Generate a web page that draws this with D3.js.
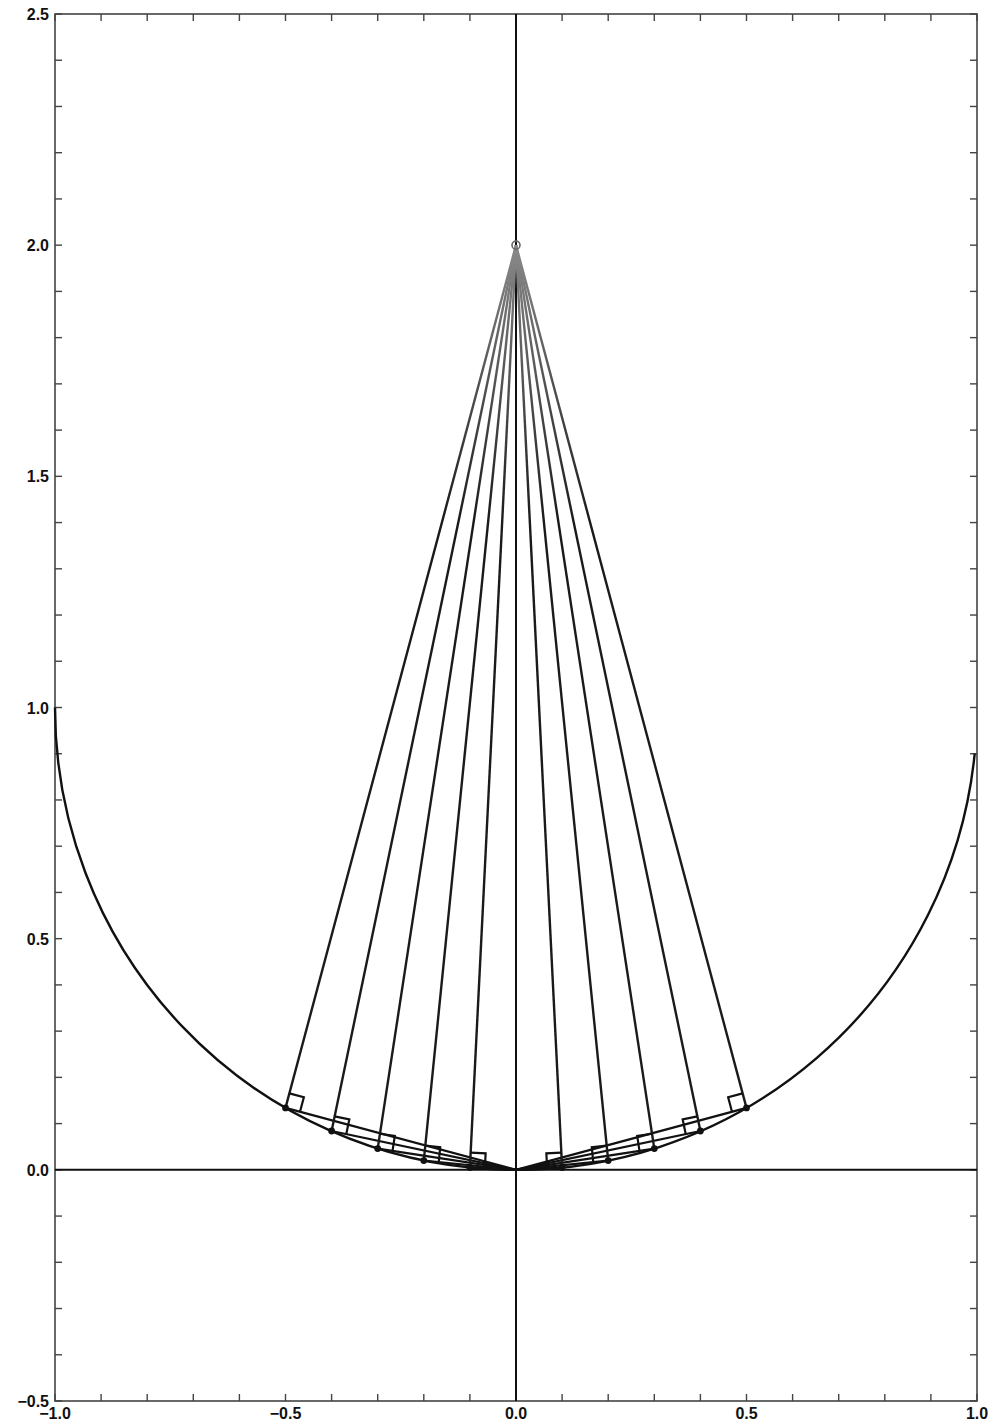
<!DOCTYPE html>
<html lang="en">
<head>
  <meta charset="UTF-8">
  <title>Right angles on the circle</title>
  <script src="https://d3js.org/d3.v7.min.js"></script>
  <style>
    body { margin: 0; background: #fff; }
    text { font-family: "Liberation Sans", Arial, sans-serif; font-weight: bold; font-size: 16px; fill: #111; }
  </style>
</head>
<body>
  <svg id="chart" width="993" height="1426"></svg>
  <script>
    // points on the circle x^2 + (y-1)^2 = 1
    const footX = [-0.5, -0.4, -0.3, -0.2, -0.1, 0.1, 0.2, 0.3, 0.4, 0.5];
    const footY = [0.134, 0.084, 0.046, 0.020, 0.005, 0.005, 0.020, 0.046, 0.084, 0.134];
    const apex = [0, 2];
    const origin = [0, 0];
    const arcStart = [-1, 1];
    const arcEnd = [0.995, 0.9];
    const xLabels = [-1.0, -0.5, 0.0, 0.5, 1.0];
    const yLabels = [-0.5, 0.0, 0.5, 1.0, 1.5, 2.0, 2.5];

    const svg = d3.select("#chart");
    const x = d3.scaleLinear().domain([-1, 1]).range([55, 977]);
    const y = d3.scaleLinear().domain([-0.5, 2.5]).range([1401, 14]);

    // fan lines fade to grey near the apex like in the scan
    const grad = svg.append("defs").append("linearGradient")
      .attr("id", "fade").attr("gradientUnits", "userSpaceOnUse")
      .attr("x1", 0).attr("x2", 0).attr("y1", y(2)).attr("y2", y(1.4));
    grad.append("stop").attr("offset", 0).attr("stop-color", "#8a8a8a");
    grad.append("stop").attr("offset", 1).attr("stop-color", "#1a1a1a");

    // frame
    svg.append("rect")
      .attr("x", x(-1)).attr("y", y(2.5))
      .attr("width", x(1) - x(-1)).attr("height", y(-0.5) - y(2.5))
      .attr("fill", "none").attr("stroke", "#444").attr("stroke-width", 1.6);

    // ticks every 0.1 on all four sides, pointing inward
    const tx = d3.range(-10, 11).map(d => d / 10);
    const ty = d3.range(-5, 26).map(d => d / 10);
    const tl = 7;
    const ticks = svg.append("g").attr("stroke", "#444").attr("stroke-width", 1.4);
    tx.forEach(v => {
      ticks.append("line").attr("x1", x(v)).attr("x2", x(v)).attr("y1", y(-0.5)).attr("y2", y(-0.5) - tl);
      ticks.append("line").attr("x1", x(v)).attr("x2", x(v)).attr("y1", y(2.5)).attr("y2", y(2.5) + tl);
    });
    ty.forEach(v => {
      ticks.append("line").attr("x1", x(-1)).attr("x2", x(-1) + tl).attr("y1", y(v)).attr("y2", y(v));
      ticks.append("line").attr("x1", x(1)).attr("x2", x(1) - tl).attr("y1", y(v)).attr("y2", y(v));
    });

    // tick labels
    const fmt = d3.format(".1f");
    svg.selectAll(".xl").data(xLabels).join("text")
      .attr("x", d => x(d)).attr("y", y(-0.5) + 18)
      .attr("text-anchor", "middle")
      .text(d => fmt(d));
    svg.selectAll(".yl").data(yLabels).join("text")
      .attr("x", x(-1) - 6).attr("y", d => y(d) + 6)
      .attr("text-anchor", "end")
      .text(d => fmt(d));

    // axes through the origin
    svg.append("line")
      .attr("x1", x(-1)).attr("x2", x(1)).attr("y1", y(0)).attr("y2", y(0))
      .attr("stroke", "#111").attr("stroke-width", 2);
    svg.append("line")
      .attr("x1", x(0)).attr("x2", x(0)).attr("y1", y(2.5)).attr("y2", y(-0.5))
      .attr("stroke", "#111").attr("stroke-width", 2);

    // the circle
    const rx = x(1) - x(0), ry = y(0) - y(1);
    svg.append("path")
      .attr("d", `M${x(arcStart[0])},${y(arcStart[1])} A${rx},${ry} 0 0 0 ${x(arcEnd[0])},${y(arcEnd[1])}`)
      .attr("fill", "none").attr("stroke", "#111").attr("stroke-width", 2.4);

    const feet = footX.map((d, i) => [d, footY[i]]);

    // chords from the origin
    svg.append("g").selectAll("line").data(feet).join("line")
      .attr("x1", x(origin[0])).attr("y1", y(origin[1]))
      .attr("x2", d => x(d[0])).attr("y2", d => y(d[1]))
      .attr("stroke", "#111").attr("stroke-width", 2.2);

    // lines from the apex
    svg.append("g").selectAll("line").data(feet).join("line")
      .attr("x1", x(apex[0])).attr("y1", y(apex[1]))
      .attr("x2", d => x(d[0])).attr("y2", d => y(d[1]))
      .attr("stroke", "url(#fade)").attr("stroke-width", 2.4);

    // right-angle marks
    const s = 15;
    svg.append("g").selectAll("path").data(feet).join("path")
      .attr("d", d => {
        const px = x(d[0]), py = y(d[1]);
        const ax = x(apex[0]) - px, ay = y(apex[1]) - py;
        const bx = x(origin[0]) - px, by = y(origin[1]) - py;
        const la = Math.hypot(ax, ay), lb = Math.hypot(bx, by);
        const ux = ax / la * s, uy = ay / la * s, vx = bx / lb * s, vy = by / lb * s;
        return `M${px + ux},${py + uy} L${px + ux + vx},${py + uy + vy} L${px + vx},${py + vy}`;
      })
      .attr("fill", "none").attr("stroke", "#111").attr("stroke-width", 2.2);

    // dots at the feet
    svg.append("g").selectAll("circle").data(feet).join("circle")
      .attr("cx", d => x(d[0])).attr("cy", d => y(d[1])).attr("r", 3.4)
      .attr("fill", "#111");

    // small ring at the apex
    svg.append("circle")
      .attr("cx", x(apex[0])).attr("cy", y(apex[1])).attr("r", 4)
      .attr("fill", "none").attr("stroke", "#666").attr("stroke-width", 1.6);
  </script>
</body>
</html>
